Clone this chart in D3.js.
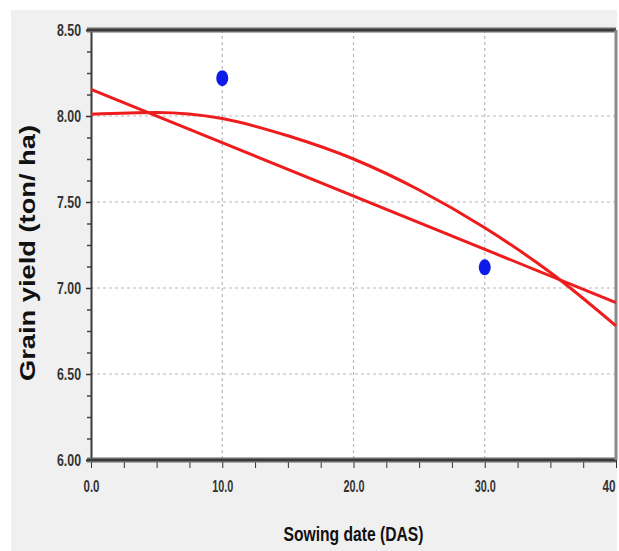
<!DOCTYPE html>
<html>
<head>
<meta charset="utf-8">
<script src="https://cdn.jsdelivr.net/npm/d3@7"></script>
<style>
  html, body { margin: 0; padding: 0; background: #ffffff; overflow: hidden; }
  svg { display: block; }
</style>
</head>
<body>
<script>
// ---- data ----
const xTicks = [0, 10, 20, 30, 40];
const xTickLabels = ["0.0", "10.0", "20.0", "30.0", "40"];
const xMinorTicks = [2.5, 5, 7.5, 12.5, 15, 17.5, 22.5, 25, 27.5, 32.5, 35, 37.5];
const yTicks = [6.0, 6.5, 7.0, 7.5, 8.0, 8.5];
const yTickLabels = ["6.00", "6.50", "7.00", "7.50", "8.00", "8.50"];
const yMinorTicks = [6.125, 6.25, 6.375, 6.625, 6.75, 6.875, 7.125, 7.25, 7.375, 7.625, 7.75, 7.875, 8.125, 8.25, 8.375];
const gridX = [10, 20, 30];
const gridY = [6.5, 7.0, 7.5, 8.0];
const obsX = [10, 30];
const obsY = [8.22, 7.12];
const linearX = [0, 40];
const linearY = [8.155, 6.915];
const quadX = [0, 5, 10, 15, 20, 25, 30, 35, 40];
const quadY = [8.01, 8.02, 7.985, 7.885, 7.75, 7.57, 7.35, 7.09, 6.78];
const xTitle = "Sowing date (DAS)";
const yTitle = "Grain yield (ton/ ha)";

// ---- drawing ----
const W = 619, H = 551;
const svg = d3.select("body").append("svg").attr("width", W).attr("height", H);

svg.append("rect").attr("x", 11).attr("y", 10).attr("width", 606).attr("height", H - 10).attr("fill", "#f0f0f0");

const x = d3.scaleLinear().domain([0, 40]).range([91, 616]);
const y = d3.scaleLinear().domain([6, 8.5]).range([460, 30]);

svg.append("rect").attr("x", x(0)).attr("y", y(8.5)).attr("width", x(40) - x(0)).attr("height", y(6) - y(8.5)).attr("fill", "#ffffff");

// grid
svg.append("g").selectAll("line").data(gridX).join("line")
  .attr("x1", d => x(d)).attr("x2", d => x(d)).attr("y1", y(8.5)).attr("y2", y(6))
  .attr("stroke", "#b8b8b8").attr("stroke-width", 1.2).attr("stroke-dasharray", "3,3");
svg.append("g").selectAll("line").data(gridY).join("line")
  .attr("y1", d => y(d)).attr("y2", d => y(d)).attr("x1", x(0)).attr("x2", x(40))
  .attr("stroke", "#b8b8b8").attr("stroke-width", 1.2).attr("stroke-dasharray", "3,3");

const tickFont = "'Liberation Sans', Arial, sans-serif";

// y axis
const yAxis = svg.append("g").attr("transform", `translate(${x(0)},0)`)
  .call(d3.axisLeft(y).tickValues(yTicks).tickFormat((d, i) => yTickLabels[i]).tickSize(5).tickPadding(5));
yAxis.select(".domain").attr("stroke", "#3a3a3a").attr("stroke-width", 2);
yAxis.selectAll(".tick line").attr("stroke", "#333").attr("stroke-width", 1.5);
yAxis.selectAll("text").attr("font-family", tickFont).attr("font-weight", "bold").attr("font-size", 16).attr("fill", "#333")
  .attr("textLength", 24).attr("lengthAdjust", "spacingAndGlyphs");

const yMinor = svg.append("g").attr("transform", `translate(${x(0)},0)`)
  .call(d3.axisLeft(y).tickValues(yMinorTicks).tickFormat("").tickSize(4));
yMinor.select(".domain").remove();
yMinor.selectAll(".tick line").attr("stroke", "#444").attr("stroke-width", 1.5);

// x axis
const xAxis = svg.append("g").attr("transform", `translate(0,${y(6)})`)
  .call(d3.axisBottom(x).tickValues(xTicks).tickFormat((d, i) => xTickLabels[i]).tickSize(8).tickPadding(13));
xAxis.select(".domain").remove();
xAxis.selectAll(".tick line").attr("stroke", "#333").attr("stroke-width", 1);
xAxis.selectAll("text").attr("font-family", tickFont).attr("font-weight", "bold").attr("font-size", 16).attr("fill", "#333")
  .attr("textLength", d => { const s = xTickLabels[xTicks.indexOf(d)]; return s.length === 3 ? 16 : (s.includes(".") ? 21 : 13); })
  .attr("lengthAdjust", "spacingAndGlyphs");
xAxis.selectAll("text").filter(d => d === 40).attr("text-anchor", "end").attr("x", -1);

const xMinor = svg.append("g").attr("transform", `translate(0,${y(6)})`)
  .call(d3.axisBottom(x).tickValues(xMinorTicks).tickFormat("").tickSize(8));
xMinor.select(".domain").remove();
xMinor.selectAll(".tick line").attr("stroke", "#333").attr("stroke-width", 1);

// frame
[y(6), y(8.5)].forEach(yy => {
  svg.append("line").attr("x1", x(0) - 4).attr("x2", x(40)).attr("y1", yy).attr("y2", yy)
    .attr("stroke", "#6a6a6a").attr("stroke-width", 5);
  svg.append("line").attr("x1", x(0) - 4).attr("x2", x(40)).attr("y1", yy).attr("y2", yy)
    .attr("stroke", "#3a3a3a").attr("stroke-width", 2);
});
svg.append("line").attr("x1", x(40)).attr("x2", x(40)).attr("y1", y(8.5)).attr("y2", y(6))
  .attr("stroke", "#8a8a8a").attr("stroke-width", 3);

// lines
const lineGen = d3.line().x(d => x(d[0])).y(d => y(d[1]));
svg.append("path").datum(linearX.map((d, i) => [d, linearY[i]]))
  .attr("d", lineGen).attr("fill", "none").attr("stroke", "#ee1c1c").attr("stroke-width", 3);
svg.append("path").datum(quadX.map((d, i) => [d, quadY[i]]))
  .attr("d", lineGen.curve(d3.curveMonotoneX)).attr("fill", "none").attr("stroke", "#ee1c1c").attr("stroke-width", 3);

// observed points
svg.append("g").selectAll("ellipse").data(obsX.map((d, i) => [d, obsY[i]])).join("ellipse")
  .attr("cx", d => x(d[0])).attr("cy", d => y(d[1])).attr("rx", 6).attr("ry", 8)
  .attr("fill", "#0d1ae8");

// titles
svg.append("text").attr("x", (x(0) + x(40)) / 2).attr("y", 541)
  .attr("text-anchor", "middle").attr("font-family", tickFont).attr("font-weight", "bold")
  .attr("font-size", 21).attr("fill", "#111").attr("textLength", 140).attr("lengthAdjust", "spacingAndGlyphs")
  .text(xTitle);
svg.append("text").attr("transform", `translate(35,${(y(6) + y(8.5)) / 2 + 8}) rotate(-90)`)
  .attr("text-anchor", "middle").attr("font-family", tickFont).attr("font-weight", "bold")
  .attr("font-size", 22).attr("fill", "#111").attr("textLength", 256).attr("lengthAdjust", "spacingAndGlyphs")
  .text(yTitle);
</script>
</body>
</html>
